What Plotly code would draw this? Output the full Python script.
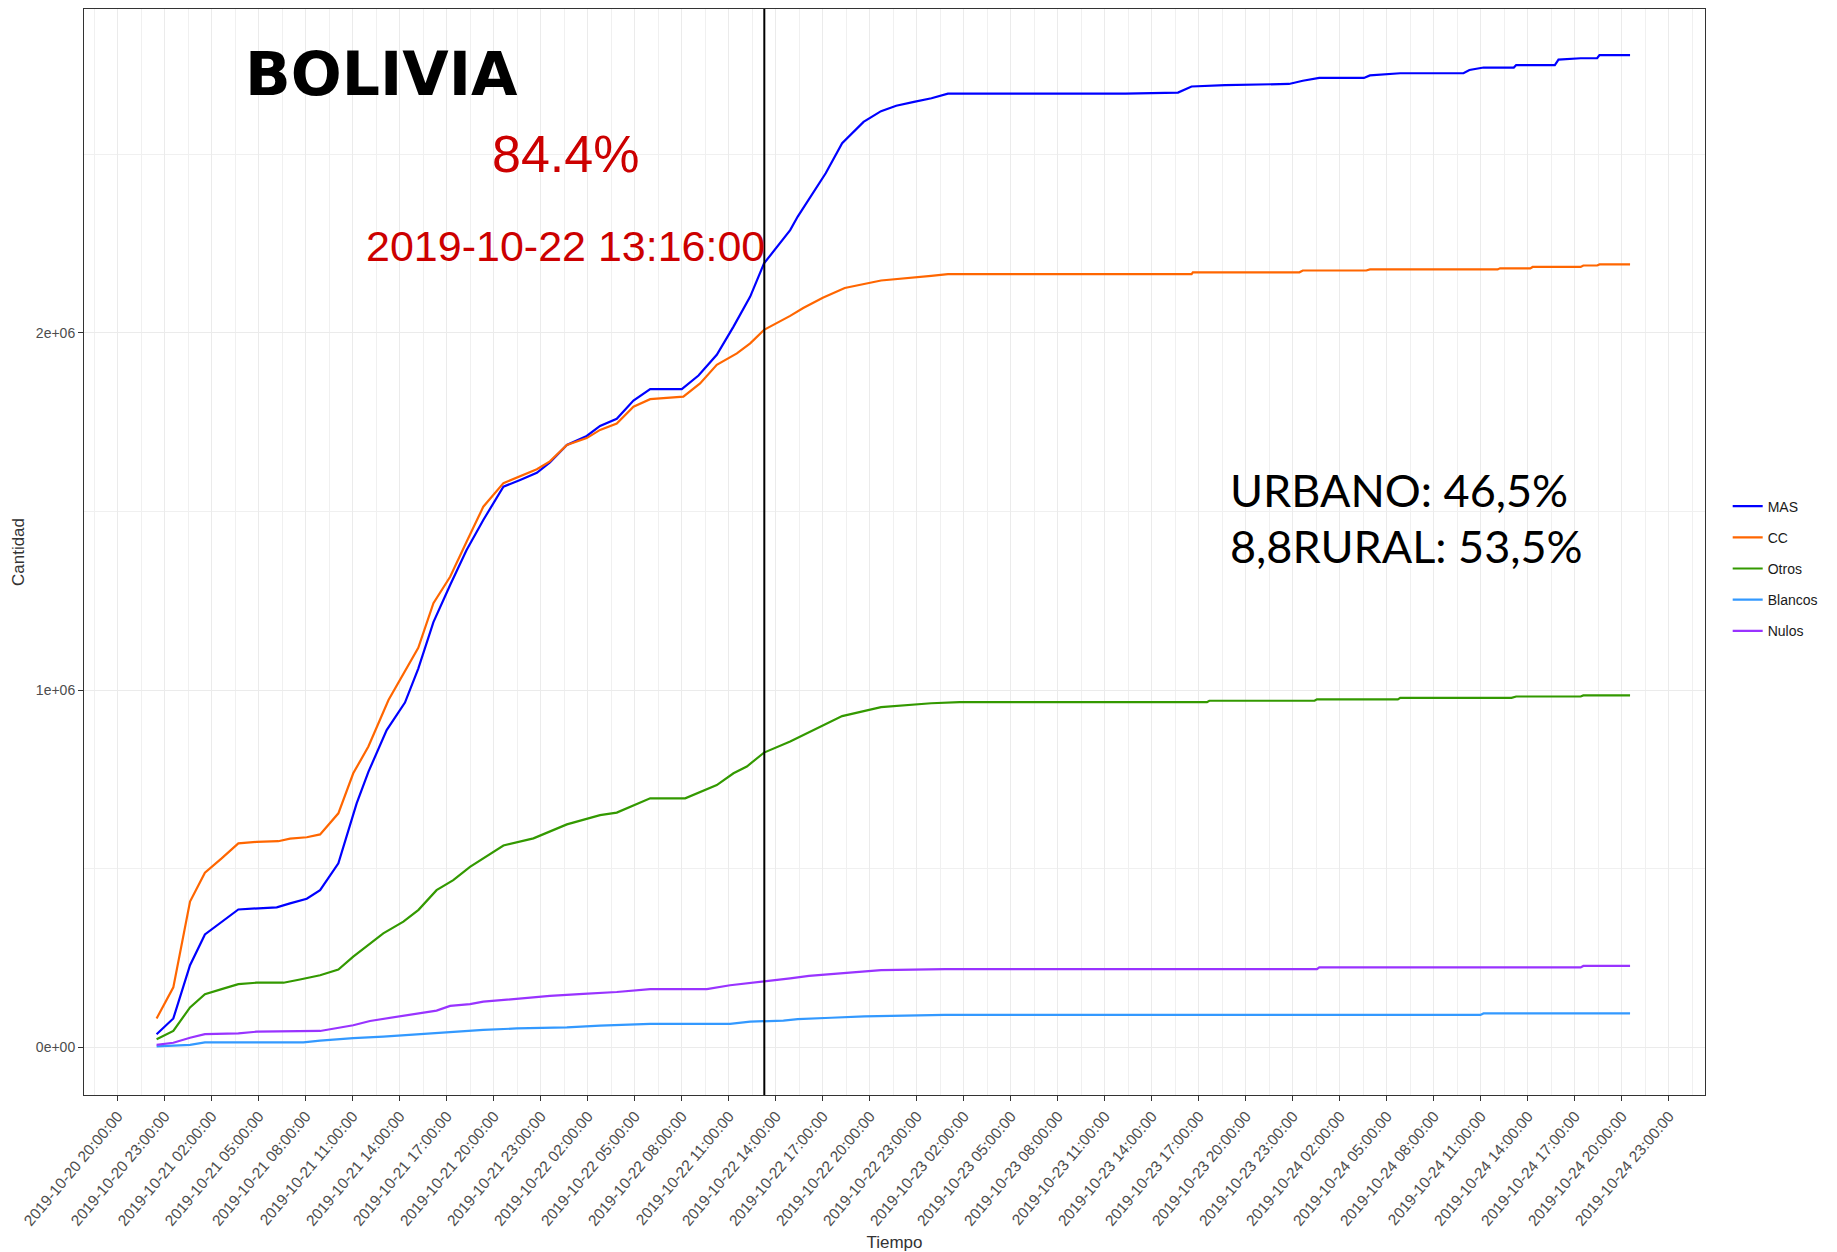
import plotly.graph_objects as go

# --- data (cumulative votes) ---
mas_time = ["2019-10-20 22:29", "2019-10-20 23:33", "2019-10-21 00:37", "2019-10-21 01:34",
            "2019-10-21 03:42", "2019-10-21 04:52", "2019-10-21 06:09", "2019-10-21 07:00",
            "2019-10-21 08:04", "2019-10-21 08:55", "2019-10-21 10:05", "2019-10-21 11:15",
            "2019-10-21 12:00", "2019-10-21 13:10", "2019-10-21 14:20", "2019-10-21 15:11",
            "2019-10-21 16:09", "2019-10-21 17:13", "2019-10-21 18:16", "2019-10-21 19:20",
            "2019-10-21 20:37", "2019-10-21 21:41", "2019-10-21 22:45", "2019-10-21 23:35",
            "2019-10-22 00:40", "2019-10-22 01:56", "2019-10-22 02:47", "2019-10-22 03:51",
            "2019-10-22 04:55", "2019-10-22 05:59", "2019-10-22 08:00", "2019-10-22 09:04",
            "2019-10-22 10:14", "2019-10-22 11:18", "2019-10-22 12:22", "2019-10-22 13:15",
            "2019-10-22 14:55", "2019-10-22 15:24", "2019-10-22 17:11", "2019-10-22 18:14",
            "2019-10-22 19:36", "2019-10-22 20:43", "2019-10-22 21:41", "2019-10-22 22:49",
            "2019-10-22 23:56", "2019-10-23 00:59", "2019-10-23 12:19", "2019-10-23 15:40",
            "2019-10-23 16:32", "2019-10-23 18:40", "2019-10-23 22:45", "2019-10-23 23:38",
            "2019-10-24 00:41", "2019-10-24 03:32", "2019-10-24 03:55", "2019-10-24 05:51",
            "2019-10-24 09:53", "2019-10-24 10:16", "2019-10-24 11:10", "2019-10-24 13:06",
            "2019-10-24 13:15", "2019-10-24 15:43", "2019-10-24 15:57", "2019-10-24 17:22",
            "2019-10-24 18:25", "2019-10-24 18:34", "2019-10-24 20:31"]
mas_votes = [37000, 81000, 230000, 316000, 386000, 389000, 392000, 403000, 416000, 440000,
             515000, 683000, 771000, 888000, 965000, 1060000, 1190000, 1294000, 1392000,
             1476000, 1569000, 1588000, 1608000, 1637000, 1686000, 1711000, 1739000, 1759000,
             1810000, 1842000, 1842000, 1880000, 1938000, 2017000, 2101000, 2194000, 2287000,
             2325000, 2446000, 2530000, 2590000, 2620000, 2635000, 2646000, 2656000, 2669000,
             2669000, 2672000, 2689000, 2693000, 2696000, 2705000, 2713000, 2713000, 2720000,
             2726000, 2726000, 2735000, 2742000, 2742000, 2749000, 2749000, 2764000, 2768000,
             2768000, 2777000, 2777000]

cc_time = ["2019-10-20 22:29", "2019-10-20 23:33", "2019-10-21 00:37", "2019-10-21 01:34",
           "2019-10-21 02:38", "2019-10-21 03:42", "2019-10-21 04:52", "2019-10-21 06:15",
           "2019-10-21 07:00", "2019-10-21 08:04", "2019-10-21 08:55", "2019-10-21 10:05",
           "2019-10-21 11:02", "2019-10-21 12:00", "2019-10-21 13:17", "2019-10-21 14:08",
           "2019-10-21 15:11", "2019-10-21 16:09", "2019-10-21 17:13", "2019-10-21 18:16",
           "2019-10-21 19:20", "2019-10-21 20:37", "2019-10-21 21:41", "2019-10-21 22:45",
           "2019-10-21 23:35", "2019-10-22 00:40", "2019-10-22 01:56", "2019-10-22 02:47",
           "2019-10-22 03:51", "2019-10-22 04:55", "2019-10-22 05:59", "2019-10-22 08:06",
           "2019-10-22 09:10", "2019-10-22 10:14", "2019-10-22 11:31", "2019-10-22 12:22",
           "2019-10-22 13:15", "2019-10-22 14:55", "2019-10-22 15:45", "2019-10-22 17:00",
           "2019-10-22 18:24", "2019-10-22 20:43", "2019-10-22 23:55", "2019-10-23 00:59",
           "2019-10-23 16:32", "2019-10-23 16:37", "2019-10-23 23:25", "2019-10-23 23:38",
           "2019-10-24 03:41", "2019-10-24 03:55", "2019-10-24 12:04", "2019-10-24 12:13",
           "2019-10-24 14:09", "2019-10-24 14:18", "2019-10-24 17:22", "2019-10-24 17:32",
           "2019-10-24 18:25", "2019-10-24 18:34", "2019-10-24 20:31"]
cc_votes = [81000, 168000, 408000, 489000, 529000, 571000, 575000, 577000, 584000, 588000,
            596000, 655000, 767000, 842000, 972000, 1036000, 1118000, 1243000, 1317000,
            1415000, 1513000, 1579000, 1599000, 1618000, 1640000, 1686000, 1705000, 1728000,
            1746000, 1793000, 1814000, 1821000, 1858000, 1910000, 1942000, 1970000, 2008000,
            2047000, 2069000, 2098000, 2125000, 2146000, 2159000, 2164000, 2164000, 2169000,
            2169000, 2174000, 2174000, 2177000, 2177000, 2180000, 2180000, 2184000, 2184000,
            2188000, 2188000, 2191000, 2191000]

otros_time = ["2019-10-20 22:29", "2019-10-20 23:33", "2019-10-21 00:37", "2019-10-21 01:34",
              "2019-10-21 02:38", "2019-10-21 03:42", "2019-10-21 04:52", "2019-10-21 06:35",
              "2019-10-21 07:38", "2019-10-21 08:55", "2019-10-21 10:05", "2019-10-21 11:02",
              "2019-10-21 12:57", "2019-10-21 14:14", "2019-10-21 15:12", "2019-10-21 16:21",
              "2019-10-21 17:25", "2019-10-21 18:29", "2019-10-21 20:37", "2019-10-21 22:32",
              "2019-10-22 00:40", "2019-10-22 02:47", "2019-10-22 03:51", "2019-10-22 05:59",
              "2019-10-22 08:13", "2019-10-22 10:14", "2019-10-22 11:18", "2019-10-22 12:09",
              "2019-10-22 13:15", "2019-10-22 14:55", "2019-10-22 18:14", "2019-10-22 20:43",
              "2019-10-22 23:55", "2019-10-23 01:44", "2019-10-23 17:31", "2019-10-23 17:40",
              "2019-10-24 00:23", "2019-10-24 00:32", "2019-10-24 05:42", "2019-10-24 05:51",
              "2019-10-24 12:57", "2019-10-24 13:15", "2019-10-24 17:22", "2019-10-24 17:32",
              "2019-10-24 20:31"]
otros_votes = [23000, 46000, 112000, 149000, 163000, 177000, 181000, 181000, 190000, 202000,
               218000, 254000, 319000, 352000, 385000, 440000, 468000, 505000, 565000, 585000,
               624000, 650000, 657000, 697000, 697000, 734000, 767000, 786000, 825000, 856000,
               927000, 952000, 963000, 966000, 966000, 970000, 970000, 974000, 974000, 978000,
               978000, 982000, 982000, 985000, 985000]

blancos_time = ["2019-10-20 22:29", "2019-10-21 00:37", "2019-10-21 01:34", "2019-10-21 07:51",
                "2019-10-21 08:55", "2019-10-21 11:02", "2019-10-21 12:57", "2019-10-21 15:18",
                "2019-10-21 17:13", "2019-10-21 18:29", "2019-10-21 19:20", "2019-10-21 21:28",
                "2019-10-22 00:40", "2019-10-22 02:47", "2019-10-22 05:59", "2019-10-22 11:05",
                "2019-10-22 12:22", "2019-10-22 14:29", "2019-10-22 15:24", "2019-10-22 17:32",
                "2019-10-22 19:39", "2019-10-23 00:47", "2019-10-24 10:58", "2019-10-24 11:10",
                "2019-10-24 20:31"]
blancos_votes = [3000, 7000, 14000, 14000, 19000, 26000, 30000, 37000, 42000, 46000, 49000,
                 53000, 56000, 61000, 66000, 66000, 72000, 75000, 79000, 83000, 87000, 91000,
                 91000, 95000, 95000]

nulos_time = ["2019-10-20 22:29", "2019-10-20 23:33", "2019-10-21 00:37", "2019-10-21 01:34",
              "2019-10-21 03:42", "2019-10-21 04:52", "2019-10-21 08:55", "2019-10-21 11:02",
              "2019-10-21 12:06", "2019-10-21 14:14", "2019-10-21 16:21", "2019-10-21 17:13",
              "2019-10-21 18:29", "2019-10-21 19:20", "2019-10-21 21:28", "2019-10-21 23:35",
              "2019-10-22 01:43", "2019-10-22 03:51", "2019-10-22 05:59", "2019-10-22 09:36",
              "2019-10-22 11:05", "2019-10-22 13:15", "2019-10-22 14:55", "2019-10-22 16:07",
              "2019-10-22 18:14", "2019-10-22 20:43", "2019-10-23 00:47", "2019-10-24 00:32",
              "2019-10-24 00:41", "2019-10-24 17:22", "2019-10-24 17:32", "2019-10-24 20:31"]
nulos_votes = [7000, 13000, 27000, 37000, 39000, 44000, 46000, 62000, 74000, 88000, 103000,
               116000, 121000, 128000, 137000, 144000, 150000, 155000, 163000, 163000, 174000,
               184000, 193000, 200000, 207000, 216000, 219000, 219000, 224000, 224000, 228000,
               228000]

series = [
    ("MAS", mas_time, mas_votes, "#0000ff"),
    ("CC", cc_time, cc_votes, "#ff6600"),
    ("Otros", otros_time, otros_votes, "#339900"),
    ("Blancos", blancos_time, blancos_votes, "#3399ff"),
    ("Nulos", nulos_time, nulos_votes, "#9933ff"),
]

cut_time = "2019-10-22 13:16:00"
y_ticks = [0, 1000000, 2000000]
y_ticktext = ["0e+00", "1e+06", "2e+06"]

fig = go.Figure()
for name, t, v, col in series:
    fig.add_trace(go.Scatter(x=t, y=v, name=name, mode="lines", legendgroup=name,
                             line=dict(color=col, width=2.2)))

fig.add_shape(type="line", x0=cut_time, x1=cut_time, y0=0, y1=1, yref="paper",
              line=dict(color="black", width=2))

tick_font = dict(family="Liberation Sans, Arial, sans-serif", size=14, color="#4d4d4d")
xtick_font = dict(family="Liberation Sans, Arial, sans-serif", size=15.5, color="#4d4d4d")

# page body has an 8px margin, so the figure is a bit smaller than the window
fig.update_layout(
    width=1829, height=1244,
    margin=dict(l=76, r=132, t=1, b=157),
    plot_bgcolor="white", paper_bgcolor="white",
    font=dict(family="Liberation Sans, Arial, sans-serif", color="#333333"),
    legend=dict(x=1.014, y=0.4848, xanchor="left", yanchor="middle",
                traceorder="grouped", tracegroupgap=10,
                font=dict(size=14, color="#1a1a1a")),
    xaxis=dict(
        type="date", automargin=False,
        range=["2019-10-20 17:51", "2019-10-25 01:18"],
        tick0="2019-10-20 20:00:00", dtick=3 * 3600 * 1000,
        tickformat="%Y-%m-%d %H:%M:%S", tickangle=-50,
        tickfont=xtick_font,
        ticks="outside", ticklen=5, tickcolor="#333333",
        showline=True, mirror=True, linecolor="#333333", linewidth=1,
        showgrid=True, gridcolor="#ebebeb", gridwidth=1,
        minor=dict(dtick=1.5 * 3600 * 1000, tick0="2019-10-20 20:00:00",
                   showgrid=True, gridcolor="#f0f0f0", gridwidth=1),
        zeroline=False,
        title=dict(text="Tiempo", font=dict(size=17, color="#333333"), standoff=20),
    ),
    yaxis=dict(
        automargin=False,
        range=[-133200, 2905800],
        tickmode="array", tickvals=y_ticks, ticktext=y_ticktext,
        tickfont=tick_font,
        ticks="outside", ticklen=5, tickcolor="#333333",
        showline=True, mirror=True, linecolor="#333333", linewidth=1,
        showgrid=True, gridcolor="#ebebeb", gridwidth=1,
        minor=dict(tickmode="array", tickvals=[500000, 1500000, 2500000],
                   showgrid=True, gridcolor="#f0f0f0", gridwidth=1),
        zeroline=False,
        title=dict(text="Cantidad", font=dict(size=17, color="#333333"), standoff=6),
    ),
)

red = "#cc0000"
fig.add_annotation(text="<b>BOLIVIA</b>", x=0.1838, y=0.9402, xref="paper", yref="paper",
                   xanchor="center", yanchor="middle", showarrow=False,
                   font=dict(family="DejaVu Sans, sans-serif", size=60, color="black"))
fig.add_annotation(text="84.4%", x=0.2973, y=0.8661, xref="paper", yref="paper",
                   xanchor="center", yanchor="middle", showarrow=False,
                   font=dict(family="Liberation Sans, Arial, sans-serif", size=52, color=red))
fig.add_annotation(text="2019-10-22 13:16:00", x=0.2973, y=0.7821, xref="paper", yref="paper",
                   xanchor="center", yanchor="middle", showarrow=False,
                   font=dict(family="Liberation Sans, Arial, sans-serif", size=43, color=red))
fig.add_annotation(text="URBANO: 46,5%", x=0.7057, y=0.5569, xref="paper", yref="paper",
                   xanchor="left", yanchor="middle", showarrow=False,
                   font=dict(family="Lato, sans-serif", size=45, color="black"))
fig.add_annotation(text="8,8RURAL: 53,5%", x=0.7057, y=0.5051, xref="paper", yref="paper",
                   xanchor="left", yanchor="middle", showarrow=False,
                   font=dict(family="Lato, sans-serif", size=45, color="black"))

fig.write_html("out.html")
